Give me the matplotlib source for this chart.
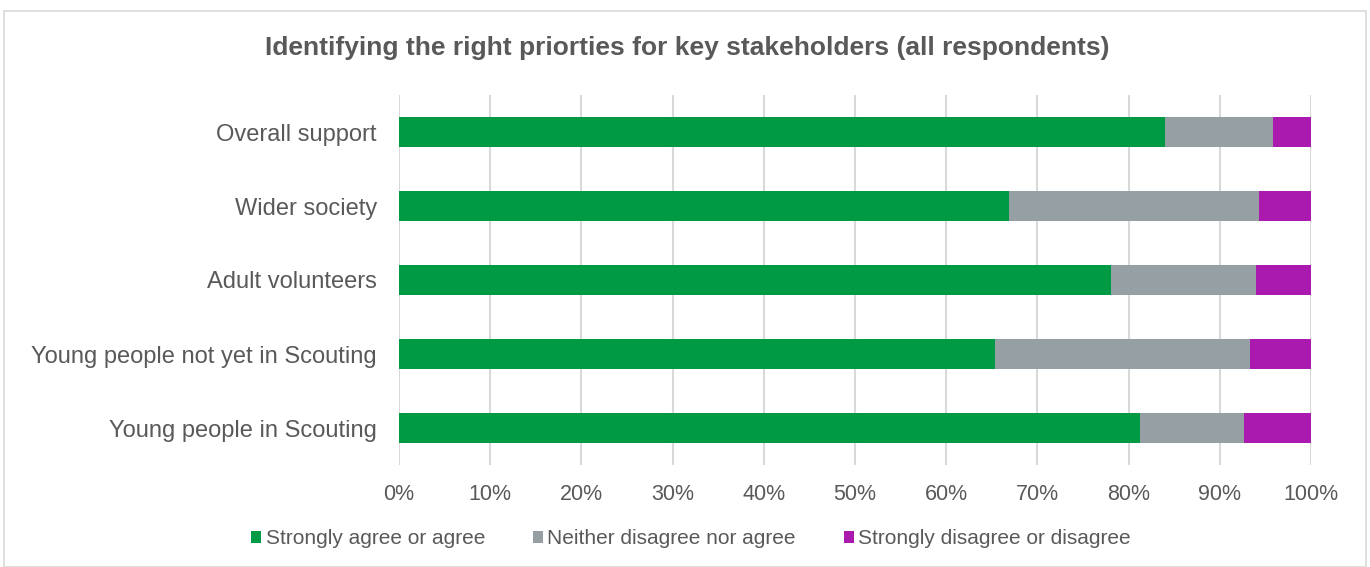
import numpy as np
import matplotlib.pyplot as plt
from matplotlib.ticker import PercentFormatter
from matplotlib.patches import Rectangle

plt.rcParams['font.family'] = ['Liberation Sans', 'DejaVu Sans']

categories = ["Overall support", "Wider society", "Adult volunteers",
              "Young people not yet in Scouting", "Young people in Scouting"]
agree = [84.0, 66.9, 78.1, 65.4, 81.2]
neither = [11.8, 27.4, 15.9, 27.9, 11.4]
disagree = [4.2, 5.7, 6.0, 6.7, 7.4]

series = ["Strongly agree or agree", "Neither disagree nor agree",
          "Strongly disagree or disagree"]
colors = ["#009A44", "#96A0A4", "#AB1AAE"]

fig = plt.figure(figsize=(13.7, 5.67), dpi=100)
ax = fig.add_axes([399 / 1370, 1 - 465 / 567, 912 / 1370, 370 / 567])

# light frame round the whole chart area
fig.patches.append(Rectangle((4 / 1370, 0), 1362 / 1370, 1 - 11 / 567,
                             transform=fig.transFigure, fill=False,
                             edgecolor="#d9d9d9", linewidth=1.2))

y = np.arange(len(categories))
left = np.zeros(len(categories))
for vals, name, c in zip([agree, neither, disagree], series, colors):
    ax.barh(y, vals, left=left, height=0.4, color=c, label=name, zorder=3)
    left += np.array(vals)

ax.set_ylim(len(categories) - 0.5, -0.5)
ax.set_xlim(0, 100)
ax.set_yticks(y)
ax.set_yticklabels(categories, fontsize=17, color="#595959")
ax.set_xticks(np.arange(0, 101, 10))
ax.xaxis.set_major_formatter(PercentFormatter(decimals=0))
ax.tick_params(axis='x', labelsize=15.5, labelcolor="#595959", length=0, pad=14)
ax.tick_params(axis='y', length=0, pad=16)
ax.grid(axis='x', color="#d9d9d9", linewidth=1.5, zorder=0)
for s in ax.spines.values():
    s.set_visible(False)

fig.text(687 / 1370, 1 - 48 / 567, "Identifying the right priorties for key stakeholders (all respondents)",
         ha='center', va='center', fontsize=19, fontweight='bold', color="#595959")

handles, labels = ax.get_legend_handles_labels()
fig.legend(handles, labels, loc='center', bbox_to_anchor=(691 / 1370, 1 - 539 / 567),
           ncol=3, frameon=False, fontsize=15, labelcolor="#595959",
           handlelength=0.5, handleheight=0.5, handletextpad=0.2, columnspacing=2.3)

fig.savefig("out.png", dpi=100)
